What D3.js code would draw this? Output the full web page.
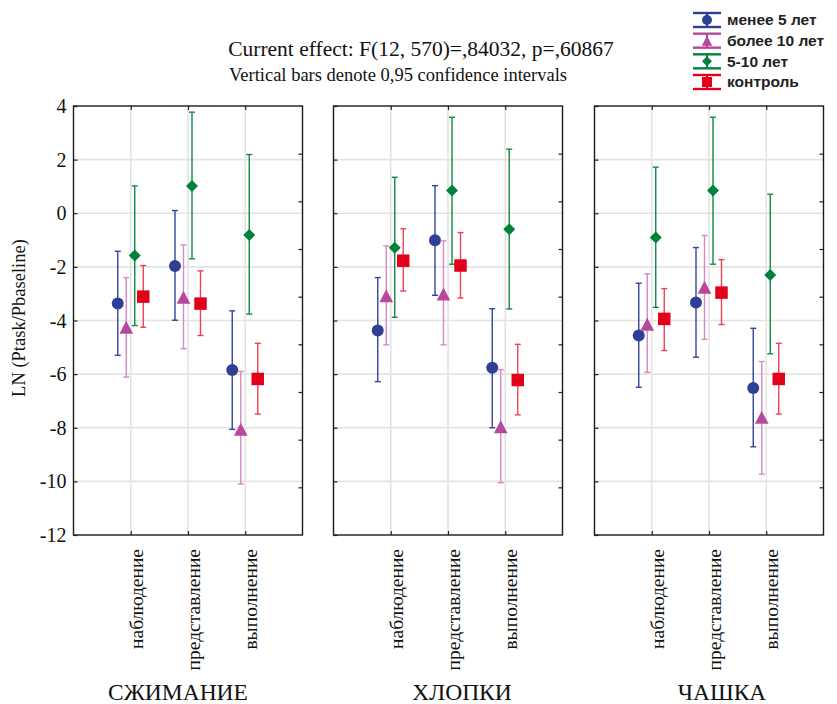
<!DOCTYPE html>
<html>
<head>
<meta charset="utf-8">
<script src="https://cdn.jsdelivr.net/npm/d3@7"></script>
<style>
  html, body { margin: 0; padding: 0; background: #fff; }
  svg { display: block; }
</style>
</head>
<body>
<svg id="chart" width="837" height="704"></svg>
<script>
// Task conditions on the x axis of each panel, one panel per movement type
const categories = ["наблюдение", "представление", "выполнение"];
const panels = ["СЖИМАНИЕ", "ХЛОПКИ", "ЧАШКА"];
const seriesNames = ["менее 5 лет", "более 10 лет", "5-10 лет", "контроль"];
const yTicks = [4, 2, 0, -2, -4, -6, -8, -10, -12];

// Means and 0.95 confidence limits, [panel][category]
const less5Mean  = [[-3.37, -1.97, -5.85], [-4.37, -1.01, -5.76], [-4.56, -3.33, -6.52]];
const less5Low   = [[-5.30, -3.99, -8.06], [-6.28, -3.06, -8.00], [-6.49, -5.37, -8.71]];
const less5High  = [[-1.42,  0.10, -3.64], [-2.40,  1.03, -3.56], [-2.61, -1.28, -4.29]];

const more10Mean = [[-4.25, -3.13, -8.06], [-3.08, -3.01, -7.96], [-4.14, -2.76, -7.61]];
const more10Low  = [[-6.11, -5.05, -10.10], [-4.91, -4.91, -10.05], [-5.93, -4.70, -9.73]];
const more10High = [[-2.40, -1.18, -5.90], [-1.22, -1.03, -5.83], [-2.26, -0.83, -5.53]];

const midMean    = [[-1.58,  1.02, -0.81], [-1.29,  0.85, -0.60], [-0.90,  0.85, -2.30]];
const midLow     = [[-4.19, -1.70, -3.76], [-3.88, -1.90, -3.57], [-3.51, -1.90, -5.24]];
const midHigh    = [[ 1.02,  3.77,  2.19], [ 1.34,  3.58,  2.39], [ 1.72,  3.58,  0.71]];

const ctrlMean   = [[-3.11, -3.37, -6.18], [-1.77, -1.95, -6.22], [-3.94, -2.96, -6.18]];
const ctrlLow    = [[-4.25, -4.56, -7.49], [-2.90, -3.16, -7.52], [-5.12, -4.15, -7.49]];
const ctrlHigh   = [[-1.95, -2.15, -4.85], [-0.58, -0.72, -4.89], [-2.81, -1.73, -4.85]];

const series = [
  { name: seriesNames[0], mean: less5Mean,  low: less5Low,  high: less5High,  shape: "circle",   fill: "#303f96", bar: "#34449c", offset: -13 },
  { name: seriesNames[1], mean: more10Mean, low: more10Low, high: more10High, shape: "triangle", fill: "#b8489c", bar: "#d888c6", offset: -4.5 },
  { name: seriesNames[2], mean: midMean,    low: midLow,    high: midHigh,    shape: "diamond",  fill: "#00823a", bar: "#0f8a45", offset: 4 },
  { name: seriesNames[3], mean: ctrlMean,   low: ctrlLow,   high: ctrlHigh,   shape: "square",   fill: "#e2001a", bar: "#ea4352", offset: 12.5 }
];

const serif = "'Liberation Serif', 'DejaVu Serif', serif";
const svg = d3.select("#chart");

const panelLeft = [73.5, 333.5, 594.5];
const panelWidth = 229;
const plotTop = 106, plotBottom = 535;

const y = d3.scaleLinear().domain([-12, 4]).range([plotBottom, plotTop]);
const yRight = d3.scaleLinear().domain([0, 9]).range([plotBottom, plotTop]);

function markerPath(shape, s) {
  const h = s / 2;
  if (shape === "triangle") return `M0,${-h}L${h * 1.05},${h}L${-h * 1.05},${h}Z`;
  if (shape === "diamond") return `M0,${-h}L${h},0L0,${h}L${-h},0Z`;
  if (shape === "square") return `M${-h},${-h}H${h}V${h}H${-h}Z`;
  return d3.symbol(d3.symbolCircle, Math.PI * h * h)();
}
const markerSize = { circle: 12, triangle: 13, diamond: 12, square: 12.5 };

// Titles
svg.append("text").attr("x", 421).attr("y", 56)
  .attr("text-anchor", "middle").attr("font-family", serif).attr("font-size", 21.5)
  .attr("fill", "#111").text("Current effect: F(12, 570)=,84032, p=,60867");
svg.append("text").attr("x", 398).attr("y", 81)
  .attr("text-anchor", "middle").attr("font-family", serif).attr("font-size", 18.5)
  .attr("fill", "#111").text("Vertical bars denote 0,95 confidence intervals");

// Y axis title
svg.append("text")
  .attr("transform", "translate(25,318) rotate(-90)")
  .attr("text-anchor", "middle").attr("font-family", serif).attr("font-size", 18.5)
  .attr("fill", "#111").text("LN (Ptask/Pbaseline)");

const panelTitleX = [178, 462, 722];

panels.forEach((pName, p) => {
  const x = d3.scalePoint().domain(["", ...categories, " "]).range([panelLeft[p], panelLeft[p] + panelWidth]);
  const g = svg.append("g");

  // Grid
  g.selectAll(".hgrid").data(yTicks.filter(t => t > -12 && t < 4)).enter().append("line")
    .attr("x1", panelLeft[p]).attr("x2", panelLeft[p] + panelWidth)
    .attr("y1", d => y(d)).attr("y2", d => y(d))
    .attr("stroke", "#e3e3e3").attr("stroke-width", 1.6);
  g.selectAll(".vgrid").data(categories).enter().append("line")
    .attr("x1", d => x(d)).attr("x2", d => x(d))
    .attr("y1", plotTop).attr("y2", plotBottom)
    .attr("stroke", "#e3e3e3").attr("stroke-width", 1.6);

  // Left axis ticks (labels only on the first panel)
  const left = g.append("g").attr("transform", `translate(${panelLeft[p]},0)`)
    .call(d3.axisRight(y).tickValues(yTicks).tickSize(4).tickFormat(""));
  left.select(".domain").remove();
  left.selectAll("line").attr("stroke", "#222").attr("stroke-width", 1.2);
  if (p === 0) {
    g.selectAll(".ylab").data(yTicks).enter().append("text")
      .attr("x", panelLeft[p] - 7).attr("y", d => y(d)).attr("dy", "0.35em")
      .attr("text-anchor", "end").attr("font-family", serif).attr("font-size", 20)
      .attr("fill", "#111").text(d => d);
  }

  // Right axis ticks
  const right = g.append("g").attr("transform", `translate(${panelLeft[p] + panelWidth},0)`)
    .call(d3.axisLeft(yRight).tickValues(d3.range(1, 9)).tickSize(4).tickFormat(""));
  right.select(".domain").remove();
  right.selectAll("line").attr("stroke", "#222").attr("stroke-width", 1.2);

  // Bottom and top category ticks
  const bottomAx = g.append("g").attr("transform", `translate(0,${plotBottom})`)
    .call(d3.axisTop(x).tickValues(categories).tickSize(4).tickFormat(""));
  bottomAx.select(".domain").remove();
  bottomAx.selectAll("line").attr("stroke", "#222").attr("stroke-width", 1.2);
  const topAx = g.append("g").attr("transform", `translate(0,${plotTop})`)
    .call(d3.axisBottom(x).tickValues(categories).tickSize(4).tickFormat(""));
  topAx.select(".domain").remove();
  topAx.selectAll("line").attr("stroke", "#222").attr("stroke-width", 1.2);

  // Frame
  g.append("rect").attr("x", panelLeft[p]).attr("y", plotTop)
    .attr("width", panelWidth).attr("height", plotBottom - plotTop)
    .attr("fill", "none").attr("stroke", "#1a1a1a").attr("stroke-width", 1.4);

  // Category labels
  g.selectAll(".cat").data(categories).enter().append("text")
    .attr("transform", d => `translate(${x(d) + 5},549) rotate(-90)`)
    .attr("dy", "0.35em").attr("text-anchor", "end")
    .attr("font-family", serif).attr("font-size", 19.5).attr("fill", "#111")
    .text(d => d);

  // Panel title
  svg.append("text").attr("x", panelTitleX[p]).attr("y", 700)
    .attr("text-anchor", "middle").attr("font-family", serif).attr("font-size", 23.5)
    .attr("fill", "#111").text(pName);

  // Error bars and means
  series.forEach(s => {
    categories.forEach((c, ci) => {
      const cx = x(c) + s.offset;
      const eg = g.append("g");
      eg.append("line").attr("x1", cx).attr("x2", cx)
        .attr("y1", y(s.low[p][ci])).attr("y2", y(s.high[p][ci]))
        .attr("stroke", s.bar).attr("stroke-width", 1.4);
      [s.low[p][ci], s.high[p][ci]].forEach(v => {
        eg.append("line").attr("x1", cx - 3).attr("x2", cx + 3)
          .attr("y1", y(v)).attr("y2", y(v))
          .attr("stroke", s.bar).attr("stroke-width", 1.4);
      });
      eg.append("path")
        .attr("transform", `translate(${cx},${y(s.mean[p][ci])})`)
        .attr("d", markerPath(s.shape, markerSize[s.shape]))
        .attr("fill", s.fill);
    });
  });
});

// Legend
const legendY = d3.scalePoint().domain(seriesNames).range([20, 82]);
const legend = svg.append("g");
series.forEach(s => {
  const cy = legendY(s.name);
  const lg = legend.append("g");
  lg.append("line").attr("x1", 707).attr("x2", 707).attr("y1", cy - 7).attr("y2", cy + 7)
    .attr("stroke", s.fill).attr("stroke-width", 2);
  [cy - 7, cy + 7].forEach(yy => {
    lg.append("line").attr("x1", 693).attr("x2", 721).attr("y1", yy).attr("y2", yy)
      .attr("stroke", s.fill).attr("stroke-width", 2.4);
  });
  lg.append("path").attr("transform", `translate(707,${cy})`)
    .attr("d", markerPath(s.shape, 10)).attr("fill", s.fill);
  lg.append("text").attr("x", 727).attr("y", cy).attr("dy", "0.35em")
    .attr("font-family", "'Liberation Sans', Arial, sans-serif").attr("font-weight", "bold")
    .attr("font-size", 15.5).attr("fill", "#222").text(s.name);
});
</script>
</body>
</html>
